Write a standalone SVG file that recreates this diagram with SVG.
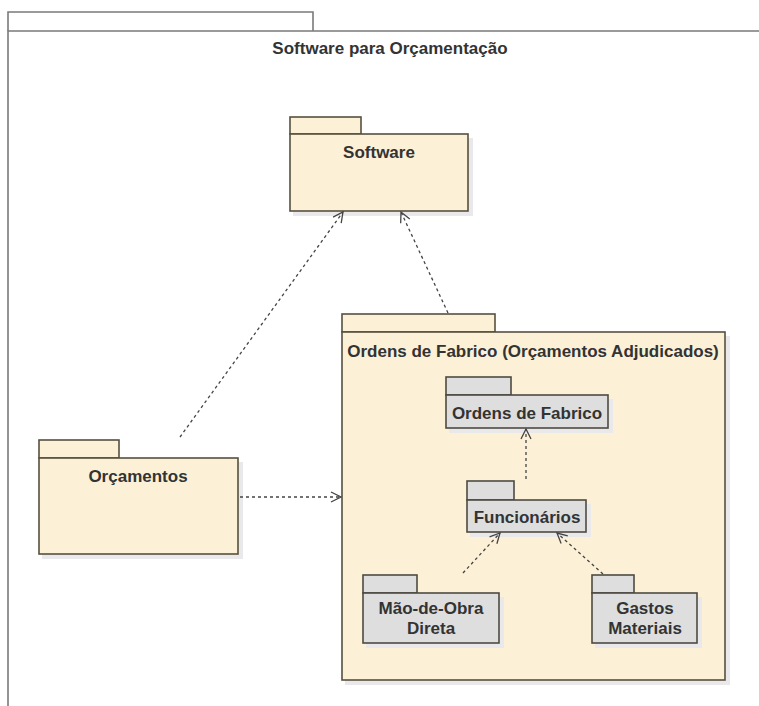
<svg xmlns="http://www.w3.org/2000/svg" width="759" height="706" viewBox="0 0 759 706">
  <defs>
    <style>
      .pkg { fill: #fcf1d6; stroke: #56503f; stroke-width: 1.6; }
      .sub { fill: #dedede; stroke: #4d4a42; stroke-width: 1.6; }
      .shadow { fill: #e9e9ec; }
      .frame { fill: #ffffff; stroke: #7a7a7a; stroke-width: 1.6; }
      .lbl { font-family: "Liberation Sans", Arial, sans-serif; font-weight: bold; font-size: 17px; fill: #333333; text-anchor: middle; }
      .dep { fill: none; stroke: #444444; stroke-width: 1.3; stroke-dasharray: 3 3; }
    </style>
    <marker id="open" viewBox="0 0 12 12" refX="11" refY="6" markerWidth="12" markerHeight="12" markerUnits="userSpaceOnUse" orient="auto">
      <path d="M1,1 L11,6 L1,11" fill="none" stroke="#444444" stroke-width="1.3"/>
    </marker>
  </defs>

  <rect width="759" height="706" fill="#ffffff"/>

  <!-- enclosing package -->
  <g id="pkg-software-orcamentacao">
    <path class="frame" d="M8,31 L8,12 L313,12 L313,31"/>
    <path class="frame" fill="none" d="M8,706 L8,31 L759,31"/>
    <text class="lbl" x="390" y="54">Software para Orçamentação</text>
  </g>

  <!-- Software -->
  <g id="pkg-software">
    <rect class="shadow" x="293" y="138" width="180" height="78"/>
    <rect class="pkg" x="290" y="117" width="71" height="17"/>
    <rect class="pkg" x="290" y="134" width="178" height="77"/>
    <text class="lbl" x="379" y="158">Software</text>
  </g>

  <!-- Orçamentos -->
  <g id="pkg-orcamentos">
    <rect class="shadow" x="42" y="462" width="201" height="97"/>
    <rect class="pkg" x="39" y="440" width="80" height="18"/>
    <rect class="pkg" x="39" y="458" width="199" height="96"/>
    <text class="lbl" x="138" y="482">Orçamentos</text>
  </g>

  <!-- Ordens de Fabrico (Orçamentos Adjudicados) -->
  <g id="pkg-ordens-adjudicados">
    <rect class="shadow" x="345" y="336" width="385" height="349"/>
    <rect class="pkg" x="342" y="314" width="153" height="18"/>
    <rect class="pkg" x="342" y="332" width="383" height="348"/>
    <text class="lbl" x="533" y="357">Ordens de Fabrico (Orçamentos Adjudicados)</text>
  </g>

  <g id="pkg-ordens-fabrico">
    <rect class="shadow" x="449" y="399" width="164" height="34"/>
    <rect class="sub" x="446" y="377" width="65" height="18"/>
    <rect class="sub" x="446" y="395" width="162" height="33"/>
    <text class="lbl" x="527" y="419">Ordens de Fabrico</text>
  </g>

  <g id="pkg-funcionarios">
    <rect class="shadow" x="470" y="504" width="121" height="33"/>
    <rect class="sub" x="467" y="481" width="47" height="19"/>
    <rect class="sub" x="467" y="500" width="119" height="32"/>
    <text class="lbl" x="527" y="523">Funcionários</text>
  </g>

  <g id="pkg-mao-de-obra">
    <rect class="shadow" x="366" y="597" width="138" height="51"/>
    <rect class="sub" x="363" y="575" width="54" height="18"/>
    <rect class="sub" x="363" y="593" width="136" height="50"/>
    <text class="lbl" x="431" y="614">Mão-de-Obra</text>
    <text class="lbl" x="431" y="634">Direta</text>
  </g>

  <g id="pkg-gastos-materiais">
    <rect class="shadow" x="595" y="597" width="107" height="51"/>
    <rect class="sub" x="592" y="575" width="42" height="18"/>
    <rect class="sub" x="592" y="593" width="105" height="50"/>
    <text class="lbl" x="645" y="614">Gastos</text>
    <text class="lbl" x="645" y="634">Materiais</text>
  </g>

  <!-- dependencies -->
  <g id="connectors">
    <line class="dep" x1="180" y1="437" x2="343" y2="212" marker-end="url(#open)"/>
    <line class="dep" x1="448" y1="313" x2="401" y2="212" marker-end="url(#open)"/>
    <line class="dep" x1="240" y1="497" x2="341" y2="497" marker-end="url(#open)"/>
    <line class="dep" x1="526" y1="479" x2="526" y2="429" marker-end="url(#open)"/>
    <line class="dep" x1="463" y1="573" x2="500" y2="533" marker-end="url(#open)"/>
    <line class="dep" x1="603" y1="574" x2="557" y2="533" marker-end="url(#open)"/>
  </g>
</svg>
